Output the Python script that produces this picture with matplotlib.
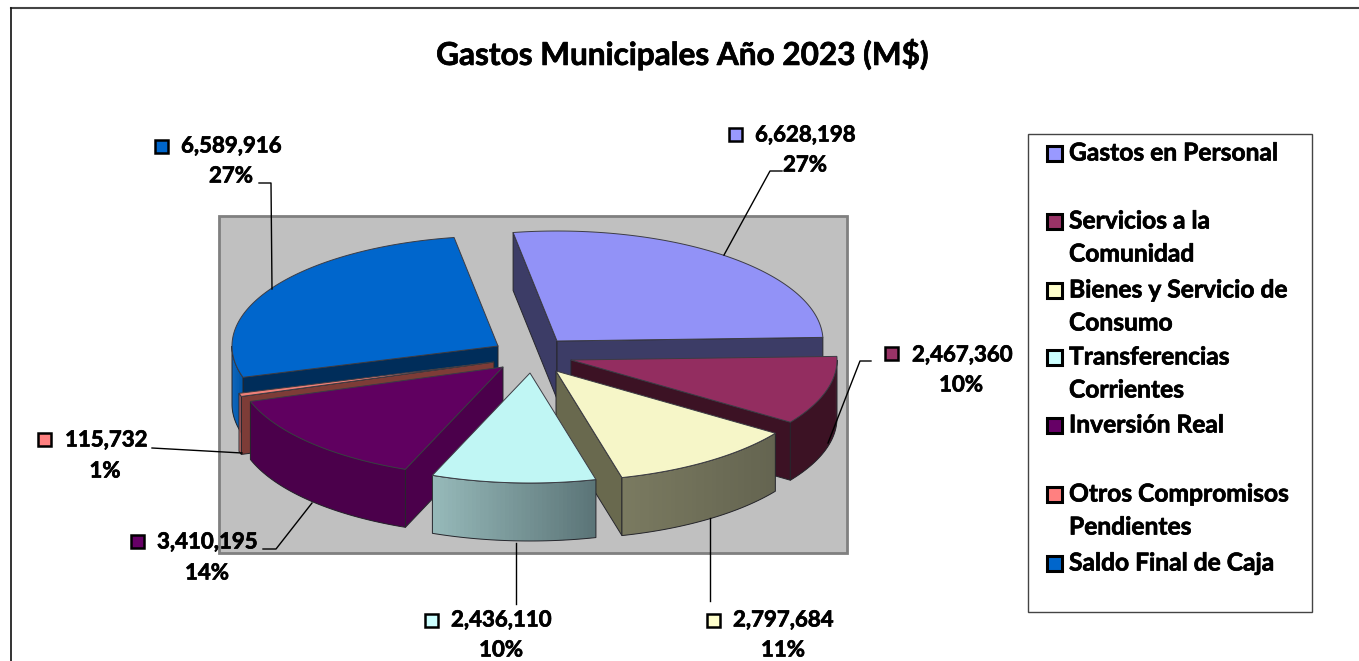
import numpy as np
import matplotlib
matplotlib.use("Agg")
import matplotlib.pyplot as plt
import matplotlib.patheffects as pe
from matplotlib.patches import Polygon, Rectangle

plt.rcParams['font.family'] = ['Lato', 'DejaVu Sans']

# data
categories = ["Gastos en Personal", "Servicios a la\nComunidad", "Bienes y Servicio de\nConsumo",
              "Transferencias\nCorrientes", "Inversión Real", "Otros Compromisos\nPendientes",
              "Saldo Final de Caja"]
values = [6628198, 2467360, 2797684, 2436110, 3410195, 115732, 6589916]
percents = ["27%", "10%", "11%", "10%", "14%", "1%", "27%"]

# colours: top face, radial wall, outer wall left / right
top_colors = ["#9292F7", "#932D60", "#F6F6C8", "#C0F6F4", "#600060", "#F08078", "#0066CC"]
side_colors = ["#3C3C66", "#3C1224", "#69694E", "#7FA0A0", "#4B004B", "#7D3C37", "#002D5A"]
wall_left = ["#3C3C66", "#3C1224", "#7A7A60", "#96B9B9", "#4B004B", "#F08078", "#0060BC"]
wall_right = ["#3C3C66", "#3C1224", "#646450", "#5A7376", "#4B004B", "#7D3C37", "#0056A8"]
key_colors = ["#9999FF", "#993366", "#FFFFCC", "#CCFFFF", "#660066", "#FF8080", "#0066CC"]

# layout, all in pixels of the picture
W, H = 1359, 661
rx, ry, depth = 266, 110, 58
start_angle = -9.5
apex = [(557, 341), (571, 360), (556, 371), (530, 373), (503, 367), (494, 362), (498, 346)]
draw_order = [0, 6, 5, 4, 1, 2, 3]

key_xy = [(735, 134), (891, 353), (713, 620), (431, 620), (137, 541), (44, 439), (161, 146)]
text_xy = [(755, 135), (912, 355), (733, 620), (451, 620), (157, 542), (65, 440), (181, 146)]
pct_xy = [(805, 165), (961, 385), (783, 650), (501, 650), (207, 573), (105, 471), (231, 176)]
leaders = [[(724, 255), (770, 171), (782, 171)],
           [(828, 443), (860, 361), (871, 361)],
           [(710, 518), (710, 601)],
           [(516, 543), (516, 604)],
           [(312, 503), (276, 549), (263, 549)],
           [(242, 453), (152, 448)],
           [(272, 289), (271, 183), (259, 183)]]
legend_y = [153, 221, 290, 357, 425, 494, 563]
legend_line = 33

fig = plt.figure(figsize=(W / 100, H / 100), dpi=100)
ax = fig.add_axes([0, 0, 1, 1])
ax.set_xlim(0, W)
ax.set_ylim(H, 0)
ax.axis("off")

bold = [pe.withStroke(linewidth=0.5, foreground="black")]

# chart frame and grey plot area
ax.plot([11, W], [8, 8], color="#444444", lw=1.5)
ax.plot([11, 11], [H, 8], color="#111111", lw=1.2)
ax.add_patch(Rectangle((219, 216), 628, 337, fc="#C0C0C0", ec="#808080", lw=2))

ax.text(682, 54, "Gastos Municipales Año 2023 (M$)", fontsize=22.7, fontweight="bold",
        ha="center", va="center", path_effects=bold)

edge = "#26262c"


def point(center, ang, down=0):
    a = np.radians(ang)
    return (center[0] + rx * np.sin(a), center[1] - ry * np.cos(a) + down)


def radial_wall(center, ang, color, order):
    p = point(center, ang)
    pts = [center, p, (p[0], p[1] + depth), (center[0], center[1] + depth)]
    ax.add_patch(Polygon(pts, fc=color, ec=edge, lw=0.7, joinstyle="round", zorder=order))


# slice angles come from the values
fracs = np.array(values) / sum(values)
edges = start_angle + np.concatenate([[0], np.cumsum(fracs)]) * 360

for n, i in enumerate(draw_order):
    a0, a1 = edges[i], edges[i + 1]
    c = apex[i]
    z = 3 + n

    # radial walls that face the viewer
    if np.sin(np.radians(a0)) < 0:
        radial_wall(c, a0, side_colors[i], z)
    if np.sin(np.radians(a1)) > 0:
        radial_wall(c, a1, side_colors[i], z)

    # outer wall, front part only, shaded in overlapping strips
    lo, hi = max(a0, 90), min(a1, 270)
    if hi > lo:
        angs = np.linspace(lo, hi, 41)
        left = np.array(matplotlib.colors.to_rgb(wall_left[i]))
        right = np.array(matplotlib.colors.to_rgb(wall_right[i]))
        xs = [point(c, t)[0] for t in angs]
        x0, x1 = min(xs), max(xs)
        # each strip reaches under the next one so no seams show
        for k in range(len(angs) - 1):
            p0, p1 = point(c, angs[k]), point(c, angs[min(k + 2, len(angs) - 1)])
            s = (0.5 * (p0[0] + p1[0]) - x0) / max(x1 - x0, 1)
            col = left + (right - left) * s
            ax.add_patch(Polygon([p0, p1, (p1[0], p1[1] + depth), (p0[0], p0[1] + depth)],
                                 fc=col, ec="none", zorder=z))
        outline = [point(c, t) for t in angs] + [point(c, t, down=depth) for t in angs[::-1]]
        ax.add_patch(Polygon(outline, fill=False, ec=edge, lw=0.7, zorder=z))

    # top face
    angs = np.linspace(a0, a1, 80)
    ax.add_patch(Polygon([c] + [point(c, t) for t in angs], fc=top_colors[i], ec="#3c3c44",
                         lw=0.7, zorder=z))

# data labels
for i in range(len(values)):
    pts = leaders[i]
    ax.plot([p[0] for p in pts], [p[1] for p in pts], color="black", lw=1.0, zorder=20)
    ax.add_patch(Rectangle((key_xy[i][0] - 6.5, key_xy[i][1] - 6.5), 13, 13, fc=key_colors[i],
                           ec="black", lw=1.8, zorder=21))
    ax.text(text_xy[i][0], text_xy[i][1], f"{values[i]:,}", fontsize=16, fontweight="bold",
            ha="left", va="center", zorder=21, path_effects=bold)
    ax.text(pct_xy[i][0], pct_xy[i][1], percents[i], fontsize=16, fontweight="bold",
            ha="center", va="center", zorder=21, path_effects=bold)

# legend
ax.add_patch(Rectangle((1028, 134), 284, 478, fc="white", ec="#444444", lw=1, zorder=2))
for i, ty in enumerate(legend_y):
    ax.add_patch(Rectangle((1054 - 7.5, ty - 7.5), 15, 15, fc=key_colors[i], ec="black", lw=2.2, zorder=3))
    for k, line in enumerate(categories[i].split("\n")):
        ax.text(1069, ty + k * legend_line, line, fontsize=17.7, fontweight="bold", ha="left",
                va="center", zorder=3, path_effects=bold)

fig.savefig("out.png", dpi=100)
